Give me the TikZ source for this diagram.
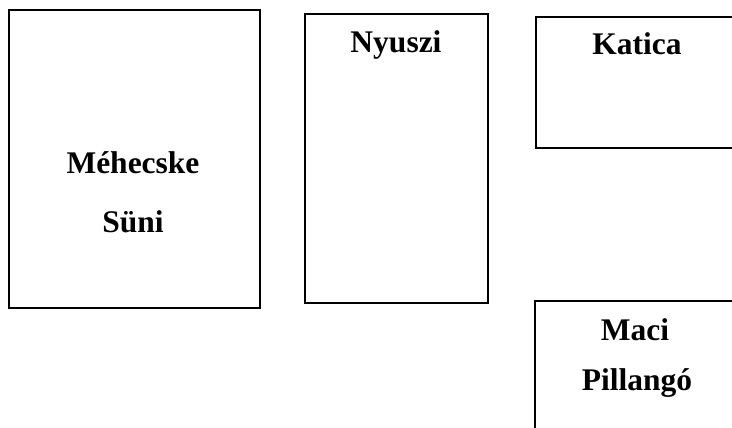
\documentclass[tikz,border=0pt]{standalone}
\usepackage{fontspec}
\setmainfont{Liberation Serif}
\begin{document}
\begin{tikzpicture}[x=1pt,y=-1pt,
  boxstyle/.style={draw=black,line width=1.6pt,rectangle,inner sep=0pt,anchor=north west},
  labelstyle/.style={font=\fontsize{31.5}{38}\selectfont\bfseries,anchor=base,inner sep=0pt}]
\useasboundingbox (0,0) rectangle (732,428);
\begin{scope}
\clip (0,0) rectangle (732,428);
\node[boxstyle,minimum width=251pt,minimum height=298pt] (b1) at (8,9) {};
\node[boxstyle,minimum width=183pt,minimum height=289pt] (b2) at (304,13) {};
\node[boxstyle,minimum width=220pt,minimum height=131pt] (b3) at (535,16) {};
\node[boxstyle,minimum width=220pt,minimum height=160pt] (b4) at (534,300) {};
\end{scope}
\node[labelstyle] (t1) at (133,173) {Méhecske};
\node[labelstyle] (t2) at (133,232) {Süni};
\node[labelstyle] (t3) at (396,53) {Nyuszi};
\node[labelstyle] (t4) at (637,55) {Katica};
\node[labelstyle] (t5) at (635,340) {Maci};
\node[labelstyle] (t6) at (637,390) {Pillangó};
\end{tikzpicture}
\end{document}
